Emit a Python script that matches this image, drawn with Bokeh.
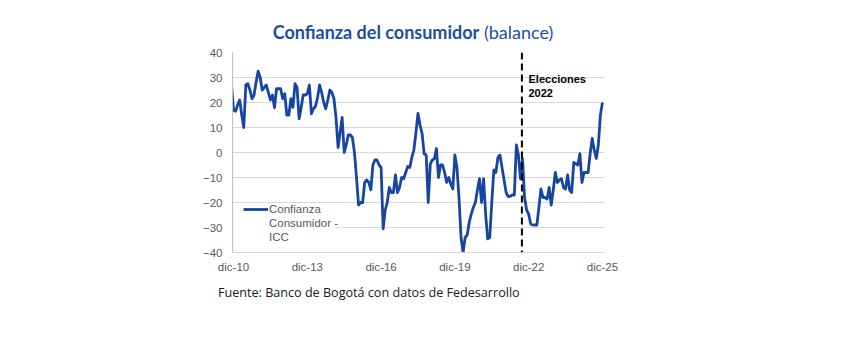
from bokeh.plotting import figure
from bokeh.models import (Range1d, FixedTicker, Span, Label, Legend, LegendItem,
                          BoxAnnotation, ColumnDataSource, Div)
from bokeh.layouts import column
from bokeh.embed import file_html
from bokeh.resources import INLINE
import pandas as pd

# ---- data (monthly, Nov-2010 .. Dec-2025) ----
icc = [27.5,
       17, 16.5, 19, 21, 15, 10, 27, 27.5, 25, 21.5, 23, 28,
       32.5, 30, 25, 26, 27, 24, 21, 23, 18, 25.5, 25.5, 25.5,
       21.5, 23.5, 15, 15, 21.5, 18, 27.5, 26, 13.5, 18, 23, 23,
       23.5, 27, 15.5, 17.5, 18.5, 22, 27, 24, 20, 17.5, 21, 25,
       24, 21.5, 14, 2, 8, 14, 0, 3, 7, 7, 6, 0,
       -10, -21, -20, -20, -12, -11, -12, -15, -5, -3, -3, -5,
       -6, -30.5, -23, -20, -14, -16, -16, -9, -16, -14, -10, -10.5,
       -8, -5.6, -6, -2, 1, 8, 15.6, 11, 7.6, -0.5, -1, -20,
       -4.6, -3, -2.5, 1.6, -10, -5, -5, -8, -12, -10, -12.6, -14.6,
       -1, -6, -18, -34, -40, -34, -33, -28, -24.6, -22, -20, -15,
       -10.5, -20, -10.5, -24.6, -34.5, -34, -20, -7, -8, -2, -1, -6,
       -11, -16, -17.6, -17.5, -17, -17, 3, -1, -10.5, -2.5, -18, -23,
       -24.6, -28.6, -29, -29, -29, -22, -14.6, -18, -18, -18.6, -14, -21,
       -15, -8, -12, -11, -10.5, -14, -14.6, -9, -15, -16, -4, -4.5,
       -5, -0.5, -12, -8, -8, -8, -0.5, 5.6, 1, -2.4, 3, 15, 20]
dates = pd.date_range("2010-11-01", periods=len(icc), freq="MS")
base = pd.Timestamp("2010-12-01")
month_idx = [(d.year - base.year) * 12 + (d.month - base.month) for d in dates]

tick_labels = ["dic-10", "dic-13", "dic-16", "dic-19", "dic-22", "dic-25"]
tick_pos = [0, 36, 72, 108, 144, 180]
election_month = 140.7   # marca "Elecciones 2022"

series_name = "Confianza"
legend_extra = ["Consumidor -", "ICC"]
title_bold = "Confianza del consumidor"
title_reg = "(balance)"
source_text = "Fuente: Banco de Bogotá con datos de Fedesarrollo"

title_color = "#1d4f9f"
grey_txt = "#595959"
tick_font = "Liberation Sans"

# ---- title (HTML, mixed bold / regular) ----
title_div = Div(
    text=(f'<div style="width:826px;text-align:center;font-family:Lato;'
          f'font-size:18px;line-height:18px;color:{title_color};padding-top:23px;'
          f'margin:0;white-space:nowrap"><b>{title_bold}</b> {title_reg}</div>'),
    width=862, height=44, margin=0)

# ---- figure ----
p = figure(width=862, height=238, output_backend="svg", toolbar_location=None,
           x_range=Range1d(-0.5, 181), y_range=Range1d(-40, 40),
           min_border_left=232, min_border_right=258,
           min_border_top=8, min_border_bottom=30, margin=0)
p.outline_line_color = None
p.background_fill_color = "white"
p.border_fill_color = "white"

p.xaxis.ticker = FixedTicker(ticks=tick_pos)
p.xaxis.major_label_overrides = {t: l for t, l in zip(tick_pos, tick_labels)}
p.yaxis.ticker = FixedTicker(ticks=list(range(-40, 41, 10)))
for ax in (p.xaxis, p.yaxis):
    ax.major_tick_line_color = None
    ax.minor_tick_line_color = None
    ax.major_tick_out = 0
    ax.major_tick_in = 0
    ax.minor_tick_out = 0
    ax.minor_tick_in = 0
    ax.major_label_text_font = tick_font
    ax.major_label_text_font_size = "11.5px"
    ax.major_label_text_color = grey_txt
p.yaxis.axis_line_color = "#bfbfbf"
p.xaxis.axis_line_color = "#d9d9d9"
p.yaxis.major_label_standoff = 10
p.xaxis.major_label_standoff = 8
p.xgrid.grid_line_color = None
p.ygrid.grid_line_color = "#d9d9d9"
p.ygrid.grid_line_width = 1

# white box behind the legend (covers grid lines)
p.add_layout(BoxAnnotation(left=1, right=103, top=49, bottom=4,
                           left_units="screen", right_units="screen",
                           top_units="screen", bottom_units="screen",
                           fill_color="white", fill_alpha=1, line_color=None,
                           level="underlay"))

src = ColumnDataSource(dict(x=month_idx, y=icc))
line_color = "#1746a2"
r = p.line("x", "y", source=src, line_color=line_color, line_width=2.8,
           line_join="round")

p.add_layout(Span(location=election_month, dimension="height",
                  line_color="black", line_width=2, line_dash="7 4"))

dummy = p.line(x=[], y=[], line_alpha=0)
items = [LegendItem(label=series_name, renderers=[r])]
items += [LegendItem(label=t, renderers=[dummy]) for t in legend_extra]
legend = Legend(items=items, location=(11, 8), padding=0, margin=0, spacing=0,
                glyph_width=25, glyph_height=14, label_height=14,
                label_standoff=1, label_text_font=tick_font,
                label_text_font_size="11.5px", label_text_color=grey_txt,
                background_fill_alpha=0, border_line_color=None)
p.add_layout(legend, "center")

# election annotation
for txt, yy in (("Elecciones", 174), ("2022", 160)):
    p.add_layout(Label(x=296, y=yy, x_units="screen", y_units="screen",
                       text=txt, text_font=tick_font, text_font_style="bold",
                       text_font_size="11px", text_color="black",
                       text_baseline="middle", text_align="left"))

# ---- source (HTML) ----
source_div = Div(
    text=(f'<div style="padding-left:218px;padding-top:4px;font-family:\'Open Sans\';'
          f'font-size:12.6px;line-height:14px;color:#1a1a1a;white-space:nowrap;margin:0">'
          f'{source_text}</div>'),
    width=862, height=70, margin=0)

layout = column(title_div, p, source_div, spacing=0)
open("out.html", "w").write(file_html(layout, INLINE))
